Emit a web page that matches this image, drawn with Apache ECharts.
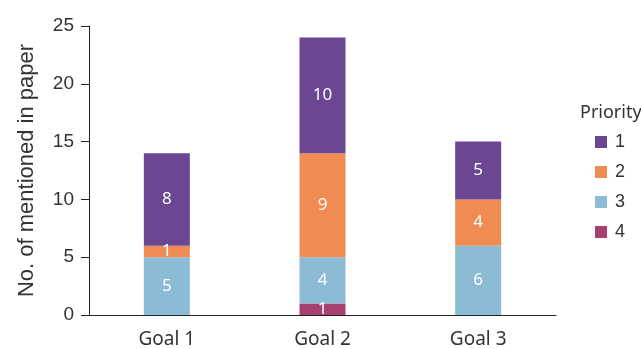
<!DOCTYPE html>
<html>
<head>
<meta charset="utf-8">
<script src="https://cdn.jsdelivr.net/npm/echarts@6/dist/echarts.min.js"></script>
<style>
  html, body { margin: 0; padding: 0; background: #fff; }
  #chart { width: 641px; height: 349px; }
</style>
</head>
<body>
<div id="chart"></div>
<script>
// data
const goals = ['Goal 1', 'Goal 2', 'Goal 3']
const priorities = ['1', '2', '3', '4']
const priority1 = [8, 10, 5]
const priority2 = [1, 9, 4]
const priority3 = [5, 4, 6]
const priority4 = [0, 1, 0]
const yTicks = [0, 5, 10, 15, 20, 25]

const colors = {
  '1': '#6b4793',
  '2': '#f08b54',
  '3': '#8bbbd5',
  '4': '#a8406f'
}

const font = 'Liberation Sans, Arial, sans-serif'

const makeSeries = (name, values) => ({
  name: name,
  type: 'bar',
  stack: 'total',
  barWidth: 46,
  data: values,
  itemStyle: { color: colors[name] },
  label: {
    show: true,
    position: 'inside',
    color: '#fff',
    fontSize: 17,
    fontFamily: 'Noto Sans, sans-serif',
    formatter: p => (p.value ? String(p.value) : '')
  }
})

const chart = echarts.init(document.getElementById('chart'))

chart.setOption({
  animation: false,
  title: {
    text: 'Priority',
    left: 575,
    top: 99,
    textStyle: { fontSize: 18, fontWeight: 'normal', color: '#333', fontFamily: 'Noto Sans, sans-serif' }
  },
  legend: {
    data: priorities,
    orient: 'vertical',
    left: 590,
    top: 128,
    itemWidth: 12,
    itemHeight: 12,
    itemGap: 12,
    icon: 'rect',
    textStyle: { fontSize: 18, color: '#333', fontFamily: font, padding: [0, 0, 0, 3] }
  },
  grid: { left: 89, right: 85, top: 26, bottom: 33 },
  xAxis: {
    type: 'category',
    data: goals,
    axisLine: { lineStyle: { color: '#222', width: 1 } },
    axisTick: { alignWithLabel: true, length: 7, lineStyle: { color: '#222' } },
    axisLabel: { fontSize: 19, color: '#333', fontFamily: 'Noto Sans, sans-serif', margin: 15 }
  },
  yAxis: {
    type: 'value',
    min: yTicks[0],
    max: yTicks[yTicks.length - 1],
    interval: 5,
    name: 'No. of mentioned in paper',
    nameLocation: 'middle',
    nameGap: 51,
    nameTextStyle: { fontSize: 22, color: '#333', fontFamily: font },
    axisLine: { show: true, lineStyle: { color: '#222', width: 1 } },
    axisTick: { show: true, length: 8, lineStyle: { color: '#222' } },
    axisLabel: { fontSize: 19, color: '#333', fontFamily: font, margin: 15 },
    splitLine: { show: false }
  },
  series: [
    makeSeries('4', priority4),
    makeSeries('3', priority3),
    makeSeries('2', priority2),
    makeSeries('1', priority1)
  ]
})

window.addEventListener('resize', () => chart.resize())
</script>
</body>
</html>
